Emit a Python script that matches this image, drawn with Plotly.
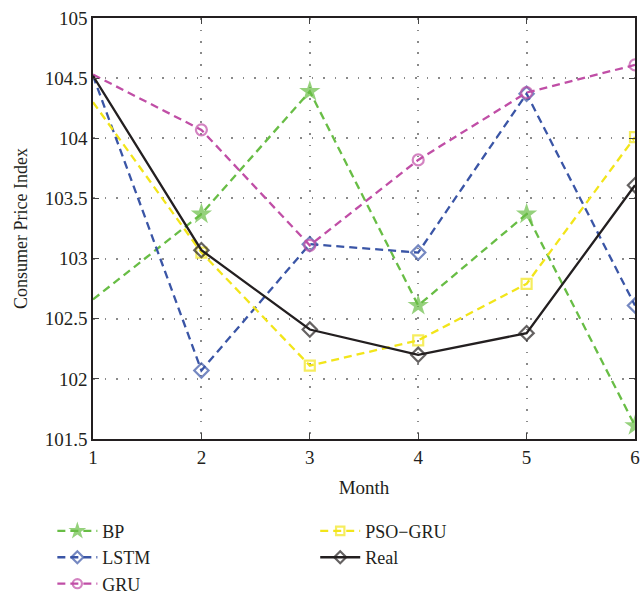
import plotly.graph_objects as go

months = [1, 2, 3, 4, 5, 6]
bp = [102.66, 103.37, 104.39, 102.61, 103.37, 101.61]
lstm = [104.52, 102.07, 103.12, 103.05, 104.37, 102.61]
gru = [104.53, 104.07, 103.11, 103.82, 104.38, 104.61]
pso_gru = [104.30, 103.05, 102.11, 102.32, 102.79, 104.01]
real = [104.52, 103.07, 102.41, 102.20, 102.38, 103.61]

y_ticks = [101.5, 102, 102.5, 103, 103.5, 104, 104.5, 105]
y_tick_text = ["101.5", "102", "102.5", "103", "103.5", "104", "104.5", "105"]
x_ticks = [1, 2, 3, 4, 5, 6]

FONT = "Liberation Serif"
DASH = "8px,5px"

def sizes(n, s):
    return [0] + [s] * (n - 1)

fig = go.Figure()
series = [
    ("BP", bp, "#68bd45", DASH, "star", sizes(len(bp), 16), "legend", True),
    ("LSTM", lstm, "#3a55a6", DASH, "diamond-open", sizes(len(lstm), 11), "legend", False),
    ("GRU", gru, "#c04ea6", DASH, "circle-open", sizes(len(gru), 11), "legend", False),
    ("PSO\u2212GRU", pso_gru, "#f2e51a", DASH, "square-open", sizes(len(pso_gru), 10), "legend2", False),
    ("Real", real, "#231f20", "solid", "diamond-open", sizes(len(real), 11), "legend2", False),
]
for name, vals, color, dash, sym, ms, leg, filled in series:
    fig.add_trace(go.Scatter(
        x=months, y=vals, name=name, mode="lines+markers",
        line=dict(color=color, width=2.3, dash=dash),
        marker=dict(symbol=sym, size=ms, color=color,
                    line=dict(color=color, width=2.2 if not filled else 0)),
        legend=leg, cliponaxis=True,
    ))

GRID = dict(showgrid=True, gridcolor="#8a8a8a", griddash="1.5px,10px", gridwidth=1.5)

fig.update_layout(
    width=643, height=606,
    margin=dict(l=93, r=3, t=18, b=157),
    paper_bgcolor="white", plot_bgcolor="white",
    font=dict(family=FONT, size=19, color="#231f20"),
    xaxis=dict(
        range=[1, 6], tickvals=x_ticks, ticks="inside", ticklen=6,
        showline=True, linecolor="#231f20", linewidth=1.5, mirror="ticks",
        zeroline=False, title=dict(text="Month", font=dict(size=19), standoff=14),
        tickfont=dict(size=19), ticklabeloverflow="allow", **GRID,
    ),
    yaxis=dict(
        range=[101.5, 105], tickvals=y_ticks, ticktext=y_tick_text,
        ticks="inside", ticklen=6,
        showline=True, linecolor="#231f20", linewidth=1.5, mirror="ticks",
        zeroline=False, title=dict(text="Consumer Price Index", font=dict(size=18), standoff=12),
        tickfont=dict(size=19), ticklabeloverflow="allow", **GRID,
    ),
    legend=dict(x=-0.075, y=-0.175, xanchor="left", yanchor="top",
                bgcolor="rgba(0,0,0,0)", font=dict(size=18), itemwidth=40,
                tracegroupgap=0),
    legend2=dict(x=0.41, y=-0.175, xanchor="left", yanchor="top",
                 bgcolor="rgba(0,0,0,0)", font=dict(size=18), itemwidth=40,
                 tracegroupgap=0),
    showlegend=True,
)

fig.write_html(
    "out.html",
    config={"displayModeBar": False},
    post_script="document.body.style.margin='0';document.body.style.overflow='hidden';",
)
